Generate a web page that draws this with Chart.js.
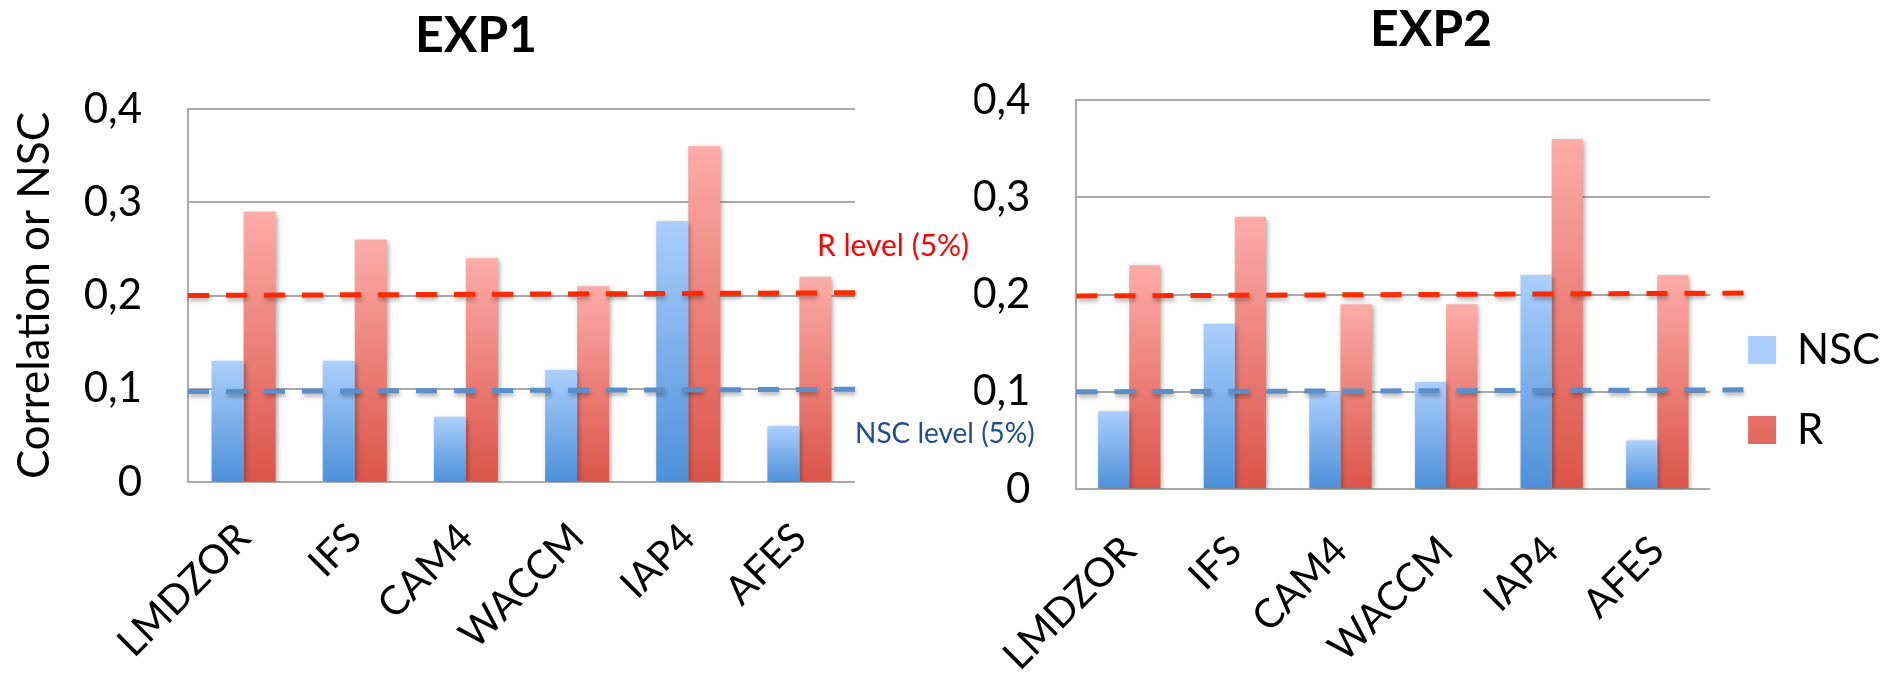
<!DOCTYPE html>
<html lang="en">
<head>
<meta charset="UTF-8">
<title>EXP1 / EXP2</title>
<script src="https://cdn.jsdelivr.net/npm/chart.js@4/dist/chart.umd.min.js"></script>
<style>
    html, body {
        margin: 0;
        padding: 0;
        background: #ffffff;
        width: 1890px;
        height: 674px;
        overflow: hidden;
    }
    #exp1Box, #exp2Box {
        position: absolute;
        top: 0;
        height: 674px;
    }
    #exp1Box { left: 0; width: 1060px; }
    #exp2Box { left: 972px; width: 918px; }
</style>
</head>
<body>

<div id="exp1Box"><canvas id="exp1Chart" width="1060" height="674"></canvas></div>
<div id="exp2Box"><canvas id="exp2Chart" width="918" height="674"></canvas></div>

<script>
// data
var models = ['LMDZOR', 'IFS', 'CAM4', 'WACCM', 'IAP4', 'AFES'];
var seriesNames = ['NSC', 'R'];

var exp1Nsc = [0.13, 0.13, 0.07, 0.12, 0.28, 0.06];
var exp1R = [0.29, 0.26, 0.24, 0.21, 0.36, 0.22];
var exp2Nsc = [0.08, 0.17, 0.10, 0.11, 0.22, 0.05];
var exp2R = [0.23, 0.28, 0.19, 0.19, 0.36, 0.22];

// 5% significance levels (hand drawn lines, start / end value)
var exp1RLevel = [0.200, 0.203];
var exp1NscLevel = [0.097, 0.0995];
var exp2RLevel = [0.1985, 0.2015];
var exp2NscLevel = [0.100, 0.102];
var levelTexts = ['R level (5%)', 'NSC level (5%)'];

var yMin = 0;
var yMax = 0.4;
var yStep = 0.1;
var yTitle = 'Correlation or NSC';
var chartTitles = ['EXP1', 'EXP2'];

var FONT = 'Lato, "Open Sans", sans-serif';

function barFill(light, dark, flat) {
    return function (c) {
        if (c.type !== 'data') return flat;
        var chart = c.chart;
        var y = chart.scales.y;
        var top = y.getPixelForValue(c.raw);
        var bottom = y.getPixelForValue(0);
        if (!isFinite(top) || top === bottom) return flat;
        var g = chart.ctx.createLinearGradient(0, top, 0, bottom);
        g.addColorStop(0, light);
        g.addColorStop(1, dark);
        return g;
    };
}

var nscFill = barFill('#abcffd', '#4d90d9', '#7db0ea');
var rFill = barFill('#fdaca8', '#db5449', '#ef8a83');

function tickText(value) {
    if (value === 0) return '0';
    return value.toFixed(1).replace('.', ',');
}

// shadows under bars, dashed level lines and their captions
var levelPlugin = {
    id: 'levels',
    beforeDatasetsDraw: function (chart) {
        var ctx = chart.ctx;
        ctx.save();
        ctx.shadowColor = 'rgba(0, 0, 0, 0.35)';
        ctx.shadowBlur = 5;
        ctx.shadowOffsetX = 2;
        ctx.shadowOffsetY = 2;
    },
    afterDatasetsDraw: function (chart, args, opts) {
        var ctx = chart.ctx;
        ctx.restore();
        var area = chart.chartArea;
        var y = chart.scales.y;
        ctx.save();
        ctx.setLineDash([21, 17]);
        ctx.lineWidth = 5;
        ctx.lineCap = 'butt';
        ctx.shadowColor = 'rgba(0, 0, 0, 0.3)';
        ctx.shadowBlur = 4;
        ctx.shadowOffsetX = 1;
        ctx.shadowOffsetY = 3;
        opts.lines.forEach(function (l) {
            ctx.strokeStyle = l.color;
            ctx.beginPath();
            ctx.moveTo(area.left, y.getPixelForValue(l.values[0]));
            ctx.lineTo(area.right + opts.ext, y.getPixelForValue(l.values[1]));
            ctx.stroke();
        });
        ctx.restore();
    },
    afterDraw: function (chart, args, opts) {
        if (!opts.labels) return;
        var ctx = chart.ctx;
        var area = chart.chartArea;
        var y = chart.scales.y;
        ctx.save();
        ctx.textBaseline = 'middle';
        opts.labels.forEach(function (l) {
            ctx.font = l.size + 'px ' + FONT;
            ctx.fillStyle = l.color;
            ctx.textAlign = l.align;
            ctx.fillText(l.text, area.right + l.dx, y.getPixelForValue(l.level) + l.dy);
        });
        ctx.restore();
    }
};

function makeChart(id, title, nsc, r, cfg) {
    var scales = {
        x: {
            grid: { display: false },
            border: { display: false },
            ticks: {
                color: '#000000',
                font: { family: FONT, size: 40 },
                minRotation: 45,
                maxRotation: 45,
                autoSkip: false,
                padding: cfg.xPad
            },
            afterFit: function (s) { s.height = cfg.xHeight; }
        },
        y: {
            min: yMin,
            max: yMax,
            grid: { color: '#aaaaaa', lineWidth: 2, drawTicks: false },
            border: { display: true, color: '#aaaaaa', width: 2 },
            ticks: {
                stepSize: yStep,
                color: '#000000',
                font: { family: FONT, size: 42 },
                padding: 46,
                callback: tickText
            },
            title: {
                display: cfg.yTitle,
                text: yTitle,
                color: '#000000',
                font: { family: FONT, size: 44 },
                padding: { top: 8, bottom: 0 }
            },
            afterFit: function (s) { s.width = cfg.yWidth; }
        }
    };
    if (cfg.spacer) {
        scales.sp = {
            type: 'linear',
            position: 'right',
            grid: { display: false },
            border: { display: false },
            ticks: { display: false },
            afterFit: function (s) { s.width = cfg.spacer; }
        };
    }

    return new Chart(document.getElementById(id).getContext('2d'), {
        type: 'bar',
        data: {
            labels: models,
            datasets: [
                { label: seriesNames[0], data: nsc, backgroundColor: nscFill, borderWidth: 0 },
                { label: seriesNames[1], data: r, backgroundColor: rFill, borderWidth: 0 }
            ]
        },
        options: {
            responsive: false,
            animation: false,
            devicePixelRatio: 1,
            categoryPercentage: cfg.catPct,
            barPercentage: 1,
            layout: { padding: cfg.padding },
            scales: scales,
            plugins: {
                title: {
                    display: true,
                    text: title,
                    color: '#000000',
                    font: { family: FONT, size: 50, weight: 'bold' },
                    padding: cfg.titlePad
                },
                legend: cfg.legend,
                tooltip: { enabled: false },
                levels: cfg.levels
            }
        },
        plugins: [levelPlugin]
    });
}

makeChart('exp1Chart', chartTitles[0], exp1Nsc, exp1R, {
    xHeight: 192,
    xPad: 24,
    yWidth: 188,
    yTitle: true,
    spacer: 97,
    catPct: 0.576,
    padding: { left: 0, right: 108, top: 0, bottom: 0 },
    titlePad: { top: 6, bottom: 43 },
    legend: { display: false },
    levels: {
        ext: 9,
        lines: [
            { values: exp1RLevel, color: '#ff2a00' },
            { values: exp1NscLevel, color: '#5b8fc9' }
        ],
        labels: [
            { text: levelTexts[0], level: exp1RLevel[1], color: '#ff0000', size: 30, align: 'center', dx: 38, dy: -46 },
            { text: levelTexts[1], level: exp1NscLevel[1], color: '#1f4e8f', size: 28, align: 'left', dx: 0, dy: 45 }
        ]
    }
});

makeChart('exp2Chart', chartTitles[1], exp2Nsc, exp2R, {
    xHeight: 185,
    xPad: 30,
    yWidth: 102,
    yTitle: false,
    spacer: 0,
    catPct: 0.59,
    padding: 0,
    titlePad: { top: 0, bottom: 40 },
    legend: {
        display: true,
        position: 'right',
        align: 'end',
        fullSize: false,
        maxWidth: 188,
        labels: {
            boxWidth: 28,
            boxHeight: 28,
            padding: 38,
            color: '#000000',
            font: { family: FONT, size: 42 }
        }
    },
    levels: {
        ext: 50,
        lines: [
            { values: exp2RLevel, color: '#ff2a00' },
            { values: exp2NscLevel, color: '#5b8fc9' }
        ]
    }
});
</script>

</body>
</html>
